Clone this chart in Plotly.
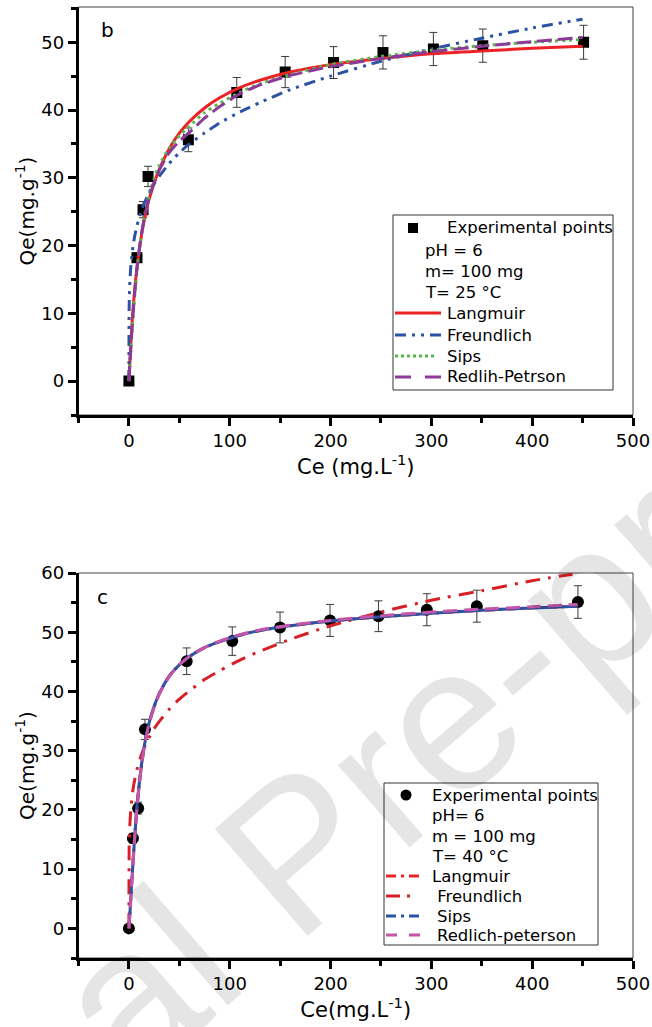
import plotly.graph_objects as go

W, H = 652, 1027
FONT = "DejaVu Sans"

# ---------------- panel b (T = 25 °C) ----------------
b_ce = [0, 8, 14, 19, 59, 107, 155, 203, 252, 302, 351, 451]
b_qe = [0, 18.2, 25.3, 30.2, 35.6, 42.6, 45.6, 47.0, 48.5, 49.0, 49.5, 50.0]
b_err = [0, 0.7, 1.2, 1.5, 1.75, 2.2, 2.3, 2.35, 2.45, 2.45, 2.45, 2.5]

b_fit_ce = [0, 1, 2, 4, 6, 8, 10, 13, 16, 20, 25, 30, 40, 50, 60, 75, 90, 110, 130, 160, 200, 250, 300, 350, 400, 450]
b_langmuir = [0, 3.0, 5.8, 10.5, 14.0, 16.8, 19.0, 22.0, 24.3, 26.8, 29.2, 31.2, 34.3, 36.6, 38.3, 40.3, 41.8, 43.3, 44.4, 45.6, 46.7, 47.6, 48.3, 48.7, 49.1, 49.4]
b_sips = [0, 2.4, 4.8, 9.2, 13.0, 16.2, 19.0, 22.2, 24.8, 27.4, 29.9, 31.8, 34.4, 36.2, 37.6, 39.6, 41.0, 42.6, 43.9, 45.2, 46.7, 47.9, 48.8, 49.5, 50.0, 50.4]
b_rp = [0, 2.6, 5.1, 9.6, 13.4, 16.6, 19.2, 22.2, 24.6, 27.0, 29.3, 31.1, 33.7, 35.4, 36.7, 38.8, 40.5, 42.4, 43.7, 45.1, 46.4, 47.6, 48.6, 49.4, 50.1, 50.7]
b_fr_ce = [0, 0.2, 0.5, 1, 2, 4, 6, 8, 10, 13, 16, 20, 25, 30, 40, 50, 60, 75, 90, 110, 130, 160, 200, 250, 300, 350, 400, 450]
b_freundlich = [0, 10.4, 12.8, 14.8, 17.1, 19.8, 21.6, 22.9, 24.0, 25.4, 26.5, 27.8, 29.1, 30.2, 32.1, 33.7, 35.0, 36.6, 38.1, 39.7, 41.1, 43.0, 45.0, 47.2, 49.0, 50.6, 52.1, 53.4]

# ---------------- panel c (T = 40 °C) ----------------
c_ce = [0, 4, 9.2, 15.9, 57.3, 102.5, 149.9, 199.5, 247.5, 295.5, 345.1, 445.4]
c_qe = [0, 15.2, 20.3, 33.6, 45.1, 48.5, 50.8, 52.0, 52.7, 53.8, 54.4, 55.1]
c_err = [0, 0.8, 1.0, 1.7, 2.25, 2.4, 2.6, 2.7, 2.6, 2.7, 2.7, 2.75]

c_fit_ce = [0, 1, 2, 4, 6, 8, 10, 13, 16, 20, 25, 30, 40, 50, 60, 75, 90, 110, 130, 160, 200, 250, 300, 350, 400, 445]
c_langmuir = [0, 2.6, 5.6, 11.1, 16.1, 20.5, 24.0, 28.2, 31.4, 34.6, 37.4, 39.6, 42.6, 44.5, 45.9, 47.4, 48.4, 49.5, 50.3, 51.1, 51.9, 52.6, 53.2, 53.7, 54.1, 54.4]
c_sips = [0, 2.5, 5.5, 11.0, 16.0, 20.5, 24.0, 28.3, 31.5, 34.7, 37.5, 39.6, 42.6, 44.5, 45.9, 47.4, 48.4, 49.5, 50.3, 51.1, 51.9, 52.6, 53.2, 53.7, 54.1, 54.4]
c_rp = [0, 2.4, 5.3, 10.8, 15.8, 20.2, 23.8, 28.1, 31.3, 34.5, 37.3, 39.5, 42.5, 44.5, 45.9, 47.4, 48.5, 49.6, 50.4, 51.2, 52.0, 52.8, 53.4, 53.9, 54.3, 54.7]
c_fr_ce = [0, 0.3, 1, 2, 4, 6, 8, 10, 13, 16, 20, 25, 30, 40, 50, 60, 75, 90, 110, 130, 160, 200, 250, 300, 350, 400, 440]
c_freundlich = [0, 13.9, 17.7, 20.3, 23.4, 25.3, 26.8, 28.1, 29.6, 30.8, 32.2, 33.7, 34.9, 37.0, 38.7, 40.1, 42.0, 43.5, 45.3, 46.8, 48.8, 51.1, 53.4, 55.4, 57.0, 58.7, 59.8]

b_legend = ["Experimental points", "pH = 6", "m= 100 mg", "T= 25 °C",
            "Langmuir", "Freundlich", "Sips", "Redlih-Petrson"]
c_legend = ["Experimental points", "pH= 6", "m = 100 mg", "T= 40 °C",
            "Langmuir", " Freundlich", "Sips", "Redlich-peterson"]

# colours / dashes
RED = "#ec2227"
RED2 = "#d81f26"
BLUE = "#2d52a3"
GREEN = "#56b847"
PURPLE = "#8b3b97"
PINK = "#c356a9"
ERRC = "#3a3a3a"

D_FR_B = "11px,6px,3px,6px,3px,6px"
D_SIPS_B = "3px,4px"
D_RP_B = "15px,6px"
D_LANG_C = "10px,4px,3px,4px"
D_FR_C = "15px,8px,3px,8px"
D_RP_C = "14px,7px"


def px_x(v):
    return v / W


def px_y(v):
    return 1 - v / H


fig = go.Figure()

# ---- panel b traces ----
fig.add_trace(go.Scatter(x=b_ce, y=b_qe, mode="markers", xaxis="x", yaxis="y",
                         marker=dict(symbol="square", size=11, color="black"),
                         error_y=dict(type="data", array=b_err, color=ERRC, thickness=1, width=4),
                         showlegend=False))
fig.add_trace(go.Scatter(x=b_fit_ce, y=b_langmuir, mode="lines", xaxis="x", yaxis="y",
                         line=dict(color=RED, width=3, shape="spline", smoothing=0.6), showlegend=False))
fig.add_trace(go.Scatter(x=b_fr_ce, y=b_freundlich, mode="lines", xaxis="x", yaxis="y",
                         line=dict(color=BLUE, width=3, dash=D_FR_B, shape="spline", smoothing=0.6), showlegend=False))
fig.add_trace(go.Scatter(x=b_fit_ce, y=b_sips, mode="lines", xaxis="x", yaxis="y",
                         line=dict(color=GREEN, width=3, dash=D_SIPS_B, shape="spline", smoothing=0.6), showlegend=False))
fig.add_trace(go.Scatter(x=b_fit_ce, y=b_rp, mode="lines", xaxis="x", yaxis="y",
                         line=dict(color=PURPLE, width=3, dash=D_RP_B, shape="spline", smoothing=0.6), showlegend=False))

# ---- panel c traces ----
fig.add_trace(go.Scatter(x=c_ce, y=c_qe, mode="markers", xaxis="x2", yaxis="y2",
                         marker=dict(symbol="circle", size=12, color="black"),
                         error_y=dict(type="data", array=c_err, color=ERRC, thickness=1, width=4),
                         showlegend=False))
fig.add_trace(go.Scatter(x=c_fit_ce, y=c_langmuir, mode="lines", xaxis="x2", yaxis="y2",
                         line=dict(color=RED, width=3, dash=D_LANG_C, shape="spline", smoothing=0.6), showlegend=False))
fig.add_trace(go.Scatter(x=c_fr_ce, y=c_freundlich, mode="lines", xaxis="x2", yaxis="y2",
                         line=dict(color=RED2, width=3, dash=D_FR_C, shape="spline", smoothing=0.6), showlegend=False))
fig.add_trace(go.Scatter(x=c_fit_ce, y=c_sips, mode="lines", xaxis="x2", yaxis="y2",
                         line=dict(color=BLUE, width=3, shape="spline", smoothing=0.6), showlegend=False))
fig.add_trace(go.Scatter(x=c_fit_ce, y=c_rp, mode="lines", xaxis="x2", yaxis="y2",
                         line=dict(color=PINK, width=3, dash=D_RP_C, shape="spline", smoothing=0.6), showlegend=False))

# ---- axes ----
XDOM = [78.5 / W, 633 / W]
tickfont = dict(family=FONT, size=18, color="black")
common = dict(showline=True, linewidth=2.5, linecolor="black", ticks="outside", ticklen=8,
              tickwidth=2.5, tickcolor="black", showgrid=False, zeroline=False,
              tickfont=tickfont, automargin=False)
xminor = dict(ticks="outside", ticklen=5, tickwidth=2.5, tickcolor="black", dtick=50, tick0=0, showgrid=False)
yminor = dict(ticks="outside", ticklen=5, tickwidth=2.5, tickcolor="black", dtick=5, tick0=0, showgrid=False)

fig.update_layout(
    xaxis=dict(domain=XDOM, range=[-50, 500], tick0=0, dtick=100, minor=xminor, anchor="y",
               title=dict(text="Ce (mg.L<sup>-1</sup>)", font=dict(family=FONT, size=21, color="black"), standoff=8),
               **common),
    yaxis=dict(domain=[px_y(415), px_y(7)], range=[-5, 55.2], tick0=0, dtick=10, minor=yminor, anchor="x",
               title=dict(text="Qe(mg.g<sup>-1</sup>)", font=dict(family=FONT, size=20, color="black"), standoff=2),
               **common),
    xaxis2=dict(domain=XDOM, range=[-50, 500], tick0=0, dtick=100, minor=xminor, anchor="y2",
                title=dict(text="Ce(mg.L<sup>-1</sup>)", font=dict(family=FONT, size=21, color="black"), standoff=8),
                **common),
    yaxis2=dict(domain=[px_y(958), px_y(573)], range=[-5, 60], tick0=0, dtick=10, minor=yminor, anchor="x2",
                title=dict(text="Qe(mg.g<sup>-1</sup>)", font=dict(family=FONT, size=20, color="black"), standoff=2),
                **common),
)

shapes = []
annotations = []

# frames (thin top / right lines)
for xr, yr in (("x domain", "y domain"), ("x2 domain", "y2 domain")):
    shapes.append(dict(type="rect", xref=xr, yref=yr, x0=0, x1=1, y0=0, y1=1,
                       line=dict(color="#444444", width=1), layer="below"))

# panel letters
annotations.append(dict(text="b", x=px_x(107), y=px_y(30), xref="paper", yref="paper",
                        xanchor="center", yanchor="middle",
                        showarrow=False, font=dict(family=FONT, size=20, color="black")))
annotations.append(dict(text="c", x=px_x(102), y=px_y(597), xref="paper", yref="paper",
                        xanchor="center", yanchor="middle",
                        showarrow=False, font=dict(family=FONT, size=20, color="black")))

LFONT = dict(family=FONT, size=16.5, color="black")


def legend_box(box, rows, texts, text_x, info_x, marker, lines):
    x0, y0, x1, y1 = box
    shapes.append(dict(type="rect", xref="paper", yref="paper",
                       x0=px_x(x0), x1=px_x(x1), y0=px_y(y1), y1=px_y(y0),
                       line=dict(color="#333333", width=1), fillcolor="white", layer="above"))
    for i, (t, yy) in enumerate(zip(texts, rows)):
        tx = info_x if i in (1, 2, 3) else text_x[i]
        annotations.append(dict(text=t, x=px_x(tx), y=px_y(yy), xref="paper", yref="paper",
                                xanchor="left", yanchor="middle", showarrow=False, font=LFONT))
    mtype, mx, msz = marker
    shapes.append(dict(type=mtype, xref="paper", yref="paper",
                       x0=px_x(mx - msz / 2), x1=px_x(mx + msz / 2),
                       y0=px_y(rows[0] + msz / 2), y1=px_y(rows[0] - msz / 2),
                       fillcolor="black", line=dict(color="black", width=0), layer="above"))
    for (yy, xa, xb, color, dash, wdt) in lines:
        shapes.append(dict(type="line", xref="paper", yref="paper",
                           x0=px_x(xa), x1=px_x(xb), y0=px_y(yy), y1=px_y(yy),
                           line=dict(color=color, width=wdt, dash=dash), layer="above"))


b_rows = [228, 250, 271, 292, 313, 335, 356, 377]
legend_box((393, 215, 613, 390), b_rows, b_legend, [445] * 8, 423, ("rect", 413, 10),
           [(b_rows[4], 395, 441, RED, "solid", 3),
            (b_rows[5], 395, 441, BLUE, "11px,6px,3px,6px,3px,6px", 3),
            (b_rows[6], 395, 436, GREEN, "3px,3px", 3),
            (b_rows[7], 395, 441, PURPLE, "16px,14px", 3)])

c_rows = [795, 815, 836, 856, 876, 896, 916, 935]
legend_box((384, 783, 598, 945), c_rows, c_legend, [430, 430, 430, 430, 430, 430, 435, 435], 430,
           ("circle", 406, 11),
           [(c_rows[4], 386, 422, RED, "10px,5px,3px,5px", 3),
            (c_rows[5], 386, 417, RED2, "14px,7px,3px,7px", 3),
            (c_rows[6], 386, 422, BLUE, "10px,5px,3px,5px", 3),
            (c_rows[7], 386, 425, PINK, "11px,12px", 3)])

# journal watermark
annotations.append(dict(text="Journal Pre-proof", x=px_x(296), y=px_y(852), xref="paper", yref="paper",
                        xanchor="center", yanchor="middle",
                        textangle=-41, showarrow=False,
                        font=dict(family="Liberation Sans", size=206, color="rgba(0,0,0,0.10)")))

fig.update_layout(
    width=W, height=H, autosize=False,
    margin=dict(l=0, r=0, t=0, b=0, pad=0),
    paper_bgcolor="white", plot_bgcolor="white",
    showlegend=False,
    shapes=shapes, annotations=annotations,
)

fig.write_html(
    "out.html",
    config={"responsive": False, "displayModeBar": False},
    post_script="document.body.style.margin='0';document.body.style.padding='0';",
)
